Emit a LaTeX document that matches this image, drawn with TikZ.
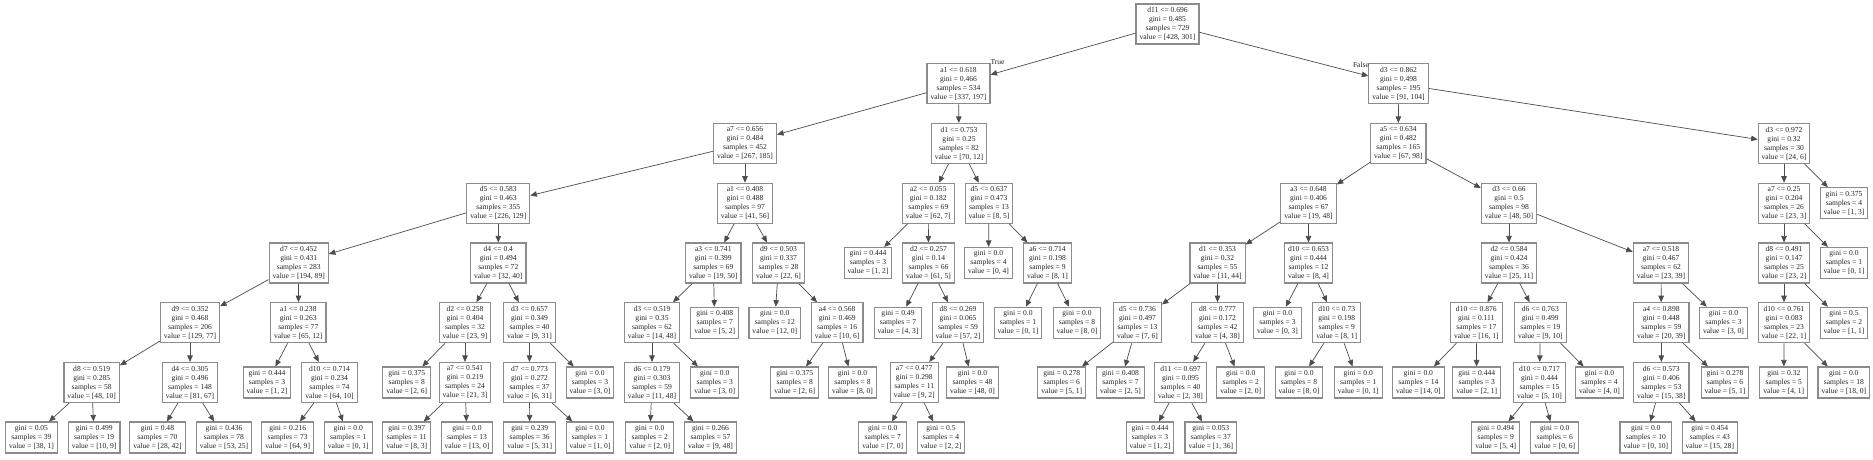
\documentclass[tikz,border=0pt]{standalone}
\usepackage{fontspec}
\setmainfont{Liberation Serif}
\usetikzlibrary{arrows.meta}
\tikzset{
  tnode/.style={draw=black!45, line width=1.1pt, fill=white, align=center,
    inner xsep=3.5pt, inner ysep=0pt, minimum height=40pt, text=black!85,
    font=\fontsize{7.57pt}{9pt}\selectfont},
  tleaf/.style={tnode, minimum height=31pt},
  tedge/.style={draw=black!70, line width=0.7pt, -{Triangle[length=6.5pt,width=5.5pt]}},
  tlabel/.style={inner sep=0pt, text=black!85, font=\fontsize{7.57pt}{9pt}\selectfont}
}
\newcommand{\TreeSplit}[7]{\node[tnode] (#1) at (#2,#3) {#4\\gini = #5\\samples = #6\\value = [#7]};}
\newcommand{\TreeLeaf}[6]{\node[tleaf] (#1) at (#2,#3) {gini = #4\\samples = #5\\value = [#6]};}
\begin{document}
\begin{tikzpicture}[x=1pt,y=-1pt]
\fill[white] (0,0) rectangle (1873,459);
\useasboundingbox (0,0) rectangle (1873,459);
% level 0
\TreeSplit{n0}{1167.5}{24}{d11 <= 0.696}{0.485}{729}{428, 301}
% level 1
\TreeSplit{n1}{958.5}{83.75}{a1 <= 0.618}{0.466}{534}{337, 197}
\TreeSplit{n2}{1398.5}{83.75}{d3 <= 0.862}{0.498}{195}{91, 104}
% level 2
\TreeSplit{n3}{745}{143.5}{a7 <= 0.656}{0.484}{452}{267, 185}
\TreeSplit{n4}{959}{143.5}{d1 <= 0.753}{0.25}{82}{70, 12}
\TreeSplit{n5}{1398.3}{143.5}{a5 <= 0.634}{0.482}{165}{67, 98}
\TreeSplit{n6}{1784}{143.5}{d3 <= 0.972}{0.32}{30}{24, 6}
% level 3
\TreeSplit{n7}{498.3}{203.25}{d5 <= 0.583}{0.463}{355}{226, 129}
\TreeSplit{n8}{745}{203.25}{a1 <= 0.408}{0.488}{97}{41, 56}
\TreeSplit{n9}{928.3}{203.25}{a2 <= 0.055}{0.182}{69}{62, 7}
\TreeSplit{n10}{989}{203.25}{d5 <= 0.637}{0.473}{13}{8, 5}
\TreeSplit{n11}{1308.5}{203.25}{a3 <= 0.648}{0.406}{67}{19, 48}
\TreeSplit{n12}{1509}{203.25}{d3 <= 0.66}{0.5}{98}{48, 50}
\TreeSplit{n13}{1784}{203.25}{a7 <= 0.25}{0.204}{26}{23, 3}
\TreeLeaf{n14}{1844}{203.25}{0.375}{4}{1, 3}
% level 4
\TreeSplit{n15}{298.7}{263}{d7 <= 0.452}{0.431}{283}{194, 89}
\TreeSplit{n16}{498.3}{263}{d4 <= 0.4}{0.494}{72}{32, 40}
\TreeSplit{n17}{713.3}{263}{a3 <= 0.741}{0.399}{69}{19, 50}
\TreeSplit{n18}{778.5}{263}{d9 <= 0.503}{0.337}{28}{22, 6}
\TreeLeaf{n19}{868}{263}{0.444}{3}{1, 2}
\TreeSplit{n20}{928.5}{263}{d2 <= 0.257}{0.14}{66}{61, 5}
\TreeLeaf{n21}{988.5}{263}{0.0}{4}{0, 4}
\TreeSplit{n22}{1047.5}{263}{a6 <= 0.714}{0.198}{9}{8, 1}
\TreeSplit{n23}{1217.5}{263}{d1 <= 0.353}{0.32}{55}{11, 44}
\TreeSplit{n24}{1308.5}{263}{d10 <= 0.653}{0.444}{12}{8, 4}
\TreeSplit{n25}{1509}{263}{d2 <= 0.584}{0.424}{36}{25, 11}
\TreeSplit{n26}{1661}{263}{a7 <= 0.518}{0.467}{62}{23, 39}
\TreeSplit{n27}{1784}{263}{d8 <= 0.491}{0.147}{25}{23, 2}
\TreeLeaf{n28}{1844}{263}{0.0}{1}{0, 1}
% level 5
\TreeSplit{n29}{190}{322.75}{d9 <= 0.352}{0.468}{206}{129, 77}
\TreeSplit{n30}{298.3}{322.75}{a1 <= 0.238}{0.263}{77}{65, 12}
\TreeSplit{n31}{465}{322.75}{d2 <= 0.258}{0.404}{32}{23, 9}
\TreeSplit{n32}{529.5}{322.75}{d3 <= 0.657}{0.349}{40}{9, 31}
\TreeSplit{n33}{652}{322.75}{d3 <= 0.519}{0.35}{62}{14, 48}
\TreeLeaf{n34}{714.7}{322.75}{0.408}{7}{5, 2}
\TreeLeaf{n35}{774.8}{322.75}{0.0}{12}{12, 0}
\TreeSplit{n36}{837.2}{322.75}{a4 <= 0.568}{0.469}{16}{10, 6}
\TreeLeaf{n37}{898}{322.75}{0.49}{7}{4, 3}
\TreeSplit{n38}{958}{322.75}{d8 <= 0.269}{0.065}{59}{57, 2}
\TreeLeaf{n39}{1018}{322.75}{0.0}{1}{0, 1}
\TreeLeaf{n40}{1077}{322.75}{0.0}{8}{8, 0}
\TreeSplit{n41}{1137.5}{322.75}{d5 <= 0.736}{0.497}{13}{7, 6}
\TreeSplit{n42}{1217.5}{322.75}{d8 <= 0.777}{0.172}{42}{4, 38}
\TreeLeaf{n43}{1277.5}{322.75}{0.0}{3}{0, 3}
\TreeSplit{n44}{1336.7}{322.75}{d10 <= 0.73}{0.198}{9}{8, 1}
\TreeSplit{n45}{1476.3}{322.75}{d10 <= 0.876}{0.111}{17}{16, 1}
\TreeSplit{n46}{1540.3}{322.75}{d6 <= 0.763}{0.499}{19}{9, 10}
\TreeSplit{n47}{1661.3}{322.75}{a4 <= 0.898}{0.448}{59}{20, 39}
\TreeLeaf{n48}{1723.5}{322.75}{0.0}{3}{3, 0}
\TreeSplit{n49}{1784}{322.75}{d10 <= 0.761}{0.083}{23}{22, 1}
\TreeLeaf{n50}{1844}{322.75}{0.5}{2}{1, 1}
% level 6
\TreeSplit{n51}{91.7}{382.5}{d8 <= 0.519}{0.285}{58}{48, 10}
\TreeSplit{n52}{190}{382.5}{d4 <= 0.305}{0.496}{148}{81, 67}
\TreeLeaf{n53}{267}{382.5}{0.444}{3}{1, 2}
\TreeSplit{n54}{329.5}{382.5}{d10 <= 0.714}{0.234}{74}{64, 10}
\TreeLeaf{n55}{406.7}{382.5}{0.375}{8}{2, 6}
\TreeSplit{n56}{465}{382.5}{a7 <= 0.541}{0.219}{24}{21, 3}
\TreeSplit{n57}{529.5}{382.5}{d7 <= 0.773}{0.272}{37}{6, 31}
\TreeLeaf{n58}{590}{382.5}{0.0}{3}{3, 0}
\TreeSplit{n59}{652}{382.5}{d6 <= 0.179}{0.303}{59}{11, 48}
\TreeLeaf{n60}{714.8}{382.5}{0.0}{3}{3, 0}
\TreeLeaf{n61}{794.7}{382.5}{0.375}{8}{2, 6}
\TreeLeaf{n62}{852.5}{382.5}{0.0}{8}{8, 0}
\TreeSplit{n63}{914.2}{382.5}{a7 <= 0.477}{0.298}{11}{9, 2}
\TreeLeaf{n64}{972.5}{382.5}{0.0}{48}{48, 0}
\TreeLeaf{n65}{1061.7}{382.5}{0.278}{6}{5, 1}
\TreeLeaf{n66}{1120.5}{382.5}{0.408}{7}{2, 5}
\TreeSplit{n67}{1180.5}{382.5}{d11 <= 0.697}{0.095}{40}{2, 38}
\TreeLeaf{n68}{1240.8}{382.5}{0.0}{2}{2, 0}
\TreeLeaf{n69}{1299}{382.5}{0.0}{8}{8, 0}
\TreeLeaf{n70}{1358.3}{382.5}{0.0}{1}{0, 1}
\TreeLeaf{n71}{1418.3}{382.5}{0.0}{14}{14, 0}
\TreeLeaf{n72}{1476.7}{382.5}{0.444}{3}{2, 1}
\TreeSplit{n73}{1539.5}{382.5}{d10 <= 0.717}{0.444}{15}{5, 10}
\TreeLeaf{n74}{1599.5}{382.5}{0.0}{4}{4, 0}
\TreeSplit{n75}{1661.3}{382.5}{d6 <= 0.573}{0.406}{53}{15, 38}
\TreeLeaf{n76}{1725}{382.5}{0.278}{6}{5, 1}
\TreeLeaf{n77}{1783.8}{382.5}{0.32}{5}{4, 1}
\TreeLeaf{n78}{1843.8}{382.5}{0.0}{18}{18, 0}
% level 7
\TreeLeaf{n79}{31.5}{437.5}{0.05}{39}{38, 1}
\TreeLeaf{n80}{94.2}{437.5}{0.499}{19}{10, 9}
\TreeLeaf{n81}{157.5}{437.5}{0.48}{70}{28, 42}
\TreeLeaf{n82}{224}{437.5}{0.436}{78}{53, 25}
\TreeLeaf{n83}{287.7}{437.5}{0.216}{73}{64, 9}
\TreeLeaf{n84}{348.3}{437.5}{0.0}{1}{0, 1}
\TreeLeaf{n85}{406.7}{437.5}{0.397}{11}{8, 3}
\TreeLeaf{n86}{467}{437.5}{0.0}{13}{13, 0}
\TreeLeaf{n87}{529.7}{437.5}{0.239}{36}{5, 31}
\TreeLeaf{n88}{590}{437.5}{0.0}{1}{1, 0}
\TreeLeaf{n89}{649.8}{437.5}{0.0}{2}{2, 0}
\TreeLeaf{n90}{710.5}{437.5}{0.266}{57}{9, 48}
\TreeLeaf{n91}{882.8}{437.5}{0.0}{7}{7, 0}
\TreeLeaf{n92}{941}{437.5}{0.5}{4}{2, 2}
\TreeLeaf{n93}{1150}{437.5}{0.444}{3}{1, 2}
\TreeLeaf{n94}{1210.8}{437.5}{0.053}{37}{1, 36}
\TreeLeaf{n95}{1495.8}{437.5}{0.494}{9}{5, 4}
\TreeLeaf{n96}{1554.8}{437.5}{0.0}{6}{0, 6}
\TreeLeaf{n97}{1645.8}{437.5}{0.0}{10}{0, 10}
\TreeLeaf{n98}{1709.8}{437.5}{0.454}{43}{15, 28}
% edges
\foreach \a/\b in {n0/n1,n0/n2,n1/n3,n1/n4,n2/n5,n2/n6,
  n3/n7,n3/n8,n4/n9,n4/n10,n5/n11,n5/n12,n6/n13,n6/n14,
  n7/n15,n7/n16,n8/n17,n8/n18,n9/n19,n9/n20,n10/n21,n10/n22,
  n11/n23,n11/n24,n12/n25,n12/n26,n13/n27,n13/n28,
  n15/n29,n15/n30,n16/n31,n16/n32,n17/n33,n17/n34,n18/n35,n18/n36,
  n20/n37,n20/n38,n22/n39,n22/n40,n23/n41,n23/n42,n24/n43,n24/n44,
  n25/n45,n25/n46,n26/n47,n26/n48,n27/n49,n27/n50,
  n29/n51,n29/n52,n30/n53,n30/n54,n31/n55,n31/n56,n32/n57,n32/n58,
  n33/n59,n33/n60,n36/n61,n36/n62,n38/n63,n38/n64,n41/n65,n41/n66,
  n42/n67,n42/n68,n44/n69,n44/n70,n45/n71,n45/n72,n46/n73,n46/n74,
  n47/n75,n47/n76,n49/n77,n49/n78,
  n51/n79,n51/n80,n52/n81,n52/n82,n54/n83,n54/n84,n56/n85,n56/n86,
  n57/n87,n57/n88,n59/n89,n59/n90,n63/n91,n63/n92,n67/n93,n67/n94,
  n73/n95,n73/n96,n75/n97,n75/n98}
  \draw[tedge] (\a) -- (\b);
\node[tlabel] (truelab) at (997.5,62.5) {True};
\node[tlabel] (falselab) at (1361,64.5) {False};
\end{tikzpicture}
\end{document}
